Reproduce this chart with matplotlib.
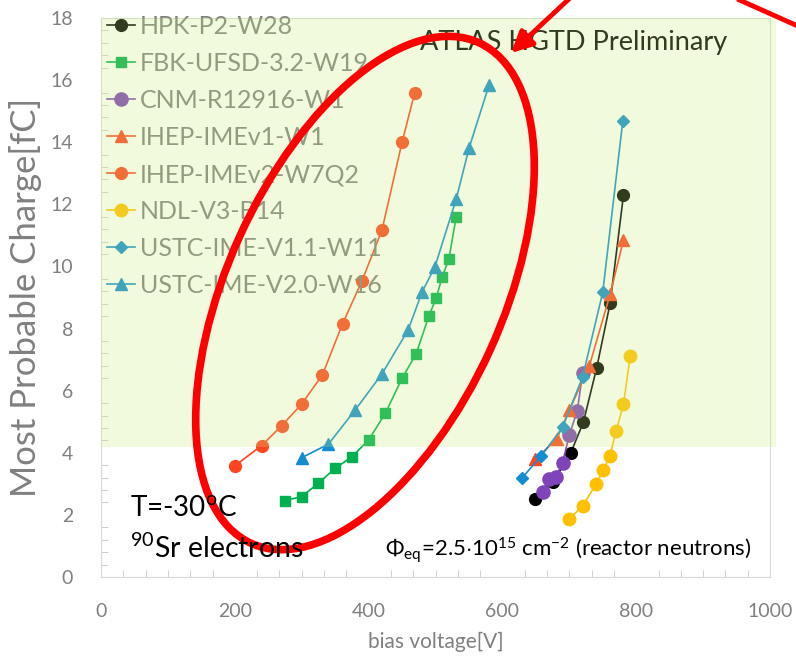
import matplotlib
matplotlib.use("Agg")
import matplotlib.pyplot as plt
from matplotlib.patches import Ellipse, Rectangle, FancyArrowPatch
from matplotlib.ticker import MultipleLocator

plt.rcParams['font.family'] = ['Lato', 'DejaVu Sans']
plt.rcParams['mathtext.fontset'] = 'custom'
plt.rcParams['mathtext.rm'] = 'Lato'
plt.rcParams['mathtext.it'] = 'Lato:italic'

# bias voltage [V] / most probable charge [fC]
hpk_v = [649, 676, 702, 721, 741, 761, 781]
hpk_q = [2.51, 3.07, 3.99, 4.98, 6.74, 8.81, 12.3]

fbk_v = [275, 300, 325, 350, 375, 400, 425, 450, 471, 490, 501, 510, 520, 531]
fbk_q = [2.46, 2.59, 3.02, 3.50, 3.87, 4.41, 5.27, 6.40, 7.18, 8.40, 8.98, 9.66, 10.24, 11.6]

cnm_v = [660, 669, 680, 690, 700, 712, 720]
cnm_q = [2.73, 3.15, 3.23, 3.68, 4.57, 5.36, 6.58]

ihep1_v = [649, 681, 700, 730, 761, 781]
ihep1_q = [3.79, 4.43, 5.37, 6.80, 9.10, 10.85]

ihep2_v = [200, 240, 270, 300, 331, 361, 390, 420, 450, 469]
ihep2_q = [3.58, 4.23, 4.87, 5.57, 6.51, 8.15, 9.53, 11.17, 14.0, 15.6]

ndl_v = [700, 720, 740, 751, 761, 770, 781, 791]
ndl_q = [1.87, 2.29, 2.99, 3.44, 3.91, 4.71, 5.56, 7.12]

ustc1_v = [629, 658, 690, 720, 750, 780]
ustc1_q = [3.18, 3.90, 4.82, 6.45, 9.17, 14.69]

ustc2_v = [300, 340, 380, 420, 459, 480, 499, 531, 550, 580]
ustc2_q = [3.84, 4.28, 5.38, 6.54, 7.95, 9.18, 9.98, 12.17, 13.8, 15.84]

series = [
    ("HPK-P2-W28", hpk_v, hpk_q, "#000000", "o", 8.5),
    ("FBK-UFSD-3.2-W19", fbk_v, fbk_q, "#00B050", "s", 7),
    ("CNM-R12916-W1", cnm_v, cnm_q, "#7F44B8", "o", 9.5),
    ("IHEP-IMEv1-W1", ihep1_v, ihep1_q, "#FF4422", "^", 8.5),
    ("IHEP-IMEv2-W7Q2", ihep2_v, ihep2_q, "#FF4422", "o", 8.5),
    ("NDL-V3-B14", ndl_v, ndl_q, "#FFC000", "o", 9),
    ("USTC-IME-V1.1-W11", ustc1_v, ustc1_q, "#148CD2", "D", 6),
    ("USTC-IME-V2.0-W16", ustc2_v, ustc2_q, "#148CD2", "^", 8.5),
]

fig = plt.figure(figsize=(7.96, 6.58), dpi=100)
ax = fig.add_axes([101 / 796, 1 - 577 / 658, 669 / 796, 559 / 658])

for name, v, q, c, m, ms in series:
    ax.plot(v, q, color=c, marker=m, markersize=ms, lw=1.2, label=name, zorder=3)

ax.set_xlim(0, 1000)
ax.set_ylim(0, 18)
ax.xaxis.set_major_locator(MultipleLocator(200))
ax.yaxis.set_major_locator(MultipleLocator(2))
ax.xaxis.set_minor_locator(MultipleLocator(200 / 6))
ax.yaxis.set_minor_locator(MultipleLocator(0.4))
ax.tick_params(which='both', direction='in', color='#c8c8c8', labelcolor='#808080', labelsize=14)
ax.tick_params(which='major', length=0)
ax.tick_params(axis='x', which='major', pad=19)
ax.tick_params(axis='y', which='major', pad=20)
ax.tick_params(which='minor', length=5)
for s in ax.spines.values():
    s.set_color('#d9d9d9')

ax.set_xlabel("bias voltage[V]", fontsize=15, color='#808080', labelpad=8)
ax.set_ylabel("Most Probable Charge[fC]", fontsize=25, color='#808080', labelpad=6)

leg = ax.legend(loc='upper left', bbox_to_anchor=(107 / 796, 1 - 15 / 658),
                bbox_transform=fig.transFigure, frameon=False, fontsize=18,
                handlelength=1.13, handletextpad=0.17, labelspacing=0.56,
                borderpad=0, borderaxespad=0, labelcolor='#808080')
leg.set_zorder(5)

ax.text(0.477, 0.957, "ATLAS HGTD Preliminary", transform=ax.transAxes,
        fontsize=19.5, color='#000000', va='center', zorder=6)

# translucent green panel laid over the upper part of the plot
ax.add_patch(Rectangle((0, 4.2), 1009, 13.8, facecolor='#C8EF7A', alpha=0.25,
                       edgecolor='none', zorder=10, clip_on=False))

# overlay in figure pixels for the hand-drawn marks and notes
ov = fig.add_axes([0, 0, 1, 1])
ov.set_xlim(0, 796)
ov.set_ylim(658, 0)
ov.axis('off')
ov.patch.set_alpha(0)

ov.text(130, 508, "T=-30$^{\\mathrm{o}}$C", fontsize=20, va='center', ha='left')
ov.text(130, 548, "$^{90}$Sr electrons", fontsize=20.5, va='center', ha='left')
ov.text(385, 550, "$\\Phi_{\\mathrm{eq}}$=2.5$\\cdot$10$^{15}$ cm$^{-2}$ (reactor neutrons)",
        fontsize=16, va='center', ha='left')

ov.add_patch(Ellipse((365, 293), 550, 275, angle=-65.5, fill=False,
                     edgecolor='#FF0000', lw=5.5))
ov.add_patch(FancyArrowPatch((570, -2), (511, 53), arrowstyle='-|>', mutation_scale=32,
                             color='#FF0000', lw=3.5, shrinkA=0, shrinkB=0))
ov.plot([735, 800], [-2, 27], color='#FF0000', lw=3.5, solid_capstyle='butt')

fig.savefig("out.png", dpi=100)
